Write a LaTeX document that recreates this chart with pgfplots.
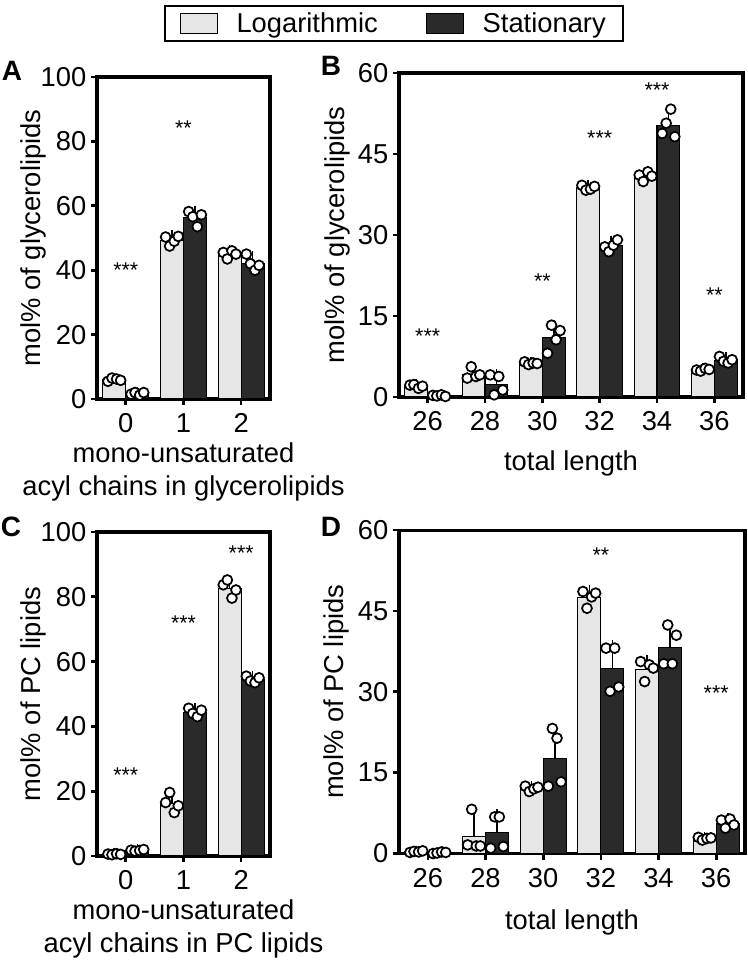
\documentclass[border=0pt]{standalone}
\usepackage{fontspec}
\setmainfont{Liberation Sans}
\usepackage{pgfplots}
\usepackage{pgfplotstable}
\pgfplotsset{compat=1.18}
\definecolor{logc}{HTML}{E6E6E6}
\definecolor{statc}{HTML}{2A2A2A}

% ---------- Panel A ----------
\pgfplotstableread{
cat log logsd stat statsd
0 6.0 0.45 1.7 0.4
1 49.3 1.4 56.4 2.0
2 45.0 1.1 42.1 2.2
}\barsA
\pgfplotstableread{
cat dx y
0 -0.31 5.5
0 -0.24 6.5
0 -0.16 6.2
0 -0.09 5.8
0 0.09 1.5
0 0.16 2.0
0 0.24 1.2
0 0.31 2.0
1 -0.31 50.3
1 -0.24 47.5
1 -0.16 49.0
1 -0.09 50.5
1 0.09 58.2
1 0.16 56.6
1 0.24 53.5
1 0.31 57.2
2 -0.31 45.5
2 -0.24 43.5
2 -0.16 46.0
2 -0.09 45.0
2 0.09 45.0
2 0.16 42.0
2 0.24 40.0
2 0.31 41.5
}\ptsA

% ---------- Panel B ----------
\pgfplotstableread{
cat log logsd stat statsd
0 2.0 0.3 0.25 0.13
1 4.25 0.9 2.4 1.8
2 6.25 0.2 11.1 2.2
3 38.75 0.4 28.0 0.9
4 40.9 0.75 50.25 2.3
5 5.05 0.2 6.8 0.5
}\barsB
\pgfplotstableread{
cat dx y
0 -0.31 2.2
0 -0.24 2.3
0 -0.16 1.6
0 -0.09 2.0
0 0.09 0.3
0 0.16 0.2
0 0.24 0.4
0 0.31 0.1
1 -0.31 3.5
1 -0.24 5.6
1 -0.16 3.8
1 -0.09 4.1
1 0.09 4.1
1 0.16 0.4
1 0.24 3.8
1 0.31 1.3
2 -0.31 6.5
2 -0.24 6.0
2 -0.16 6.3
2 -0.09 6.2
2 0.09 8.1
2 0.16 13.3
2 0.24 10.6
2 0.31 12.3
3 -0.31 39.2
3 -0.24 38.3
3 -0.16 38.5
3 -0.09 39.0
3 0.09 27.8
3 0.16 26.9
3 0.24 28.1
3 0.31 29.1
4 -0.31 41.1
4 -0.24 39.9
4 -0.16 41.7
4 -0.09 40.9
4 0.09 48.8
4 0.16 50.7
4 0.24 53.3
4 0.31 48.2
5 -0.31 5.0
5 -0.24 4.8
5 -0.16 5.3
5 -0.09 5.1
5 0.09 7.5
5 0.16 6.6
5 0.24 6.3
5 0.31 6.9
}\ptsB

% ---------- Panel C ----------
\pgfplotstableread{
cat log logsd stat statsd
0 0.55 0.13 1.75 0.2
1 16.25 2.6 44.4 1.1
2 82.65 2.4 54.5 0.9
}\barsC
\pgfplotstableread{
cat dx y
0 -0.31 0.6
0 -0.24 0.4
0 -0.16 0.7
0 -0.09 0.5
0 0.09 1.8
0 0.16 1.5
0 0.24 1.7
0 0.31 2.0
1 -0.31 16.5
1 -0.24 19.6
1 -0.16 13.4
1 -0.09 15.5
1 0.09 45.6
1 0.16 44.0
1 0.24 43.0
1 0.31 45.0
2 -0.31 83.7
2 -0.24 85.2
2 -0.16 79.6
2 -0.09 82.1
2 0.09 55.5
2 0.16 54.0
2 0.24 53.5
2 0.31 55.0
}\ptsC

% ---------- Panel D ----------
\pgfplotstableread{
cat log logsd stat statsd
0 0.35 0.13 0.15 0.13
1 3.15 3.4 3.98 3.2
2 12.1 0.4 17.6 5.4
3 47.5 1.4 34.3 4.4
4 34.2 1.6 38.3 3.7
5 2.8 0.2 5.65 0.8
}\barsD
\pgfplotstableread{
cat dx y
0 -0.31 0.2
0 -0.24 0.4
0 -0.16 0.3
0 -0.09 0.5
0 0.09 0.0
0 0.16 0.1
0 0.24 0.3
0 0.31 0.2
1 -0.24 8.2
1 -0.31 1.6
1 -0.16 1.4
1 -0.09 1.4
1 0.09 1.0
1 0.16 6.8
1 0.24 6.8
1 0.31 1.3
2 -0.31 12.5
2 -0.24 11.5
2 -0.16 12.0
2 -0.09 12.3
2 0.16 23.2
2 0.24 21.4
2 0.09 12.5
2 0.31 13.3
3 -0.31 48.6
3 -0.24 45.5
3 -0.16 47.6
3 -0.09 48.3
3 0.09 38.1
3 0.16 30.1
3 0.24 38.1
3 0.31 30.9
4 -0.31 35.6
4 -0.24 31.9
4 -0.16 35.0
4 -0.09 34.4
4 0.09 35.2
4 0.16 42.4
4 0.24 35.2
4 0.31 40.5
5 -0.31 3.0
5 -0.24 2.5
5 -0.16 2.8
5 -0.09 2.9
5 0.09 6.2
5 0.16 4.7
5 0.24 6.4
5 0.31 5.3
}\ptsD

\pgfplotsset{
  panel/.style={
    scale only axis,
    separate axis lines,
    axis line style={line width=2.3pt, black, line cap=rect},
    tick pos=left,
    tick align=outside,
    major tick length=4.5pt,
    major tick style={line width=2pt, black},
    ymin=0,
    /pgf/number format/assume math mode=true,
    tick label style={font=\fontsize{20.5}{24}\selectfont, black},
    xticklabel style={yshift=-3pt},
    label style={font=\fontsize{20.5}{25}\selectfont, black},
    xlabel style={align=center},
  },
  ylab/.style={every axis y label/.style={at={(axis description cs:#1,0.5)}, rotate=90, anchor=center,
      font=\fontsize{20.5}{25}\selectfont, black}},
  barlog/.style={ybar, bar width=0.4, bar shift=0pt, fill=logc, draw=black, line width=0.8pt, forget plot,
    error bars/.cd, y dir=plus, y explicit,
    error bar style={line width=1.2pt, black},
    error mark options={line width=1.2pt, mark size=4pt, black}},
  barstat/.style={ybar, bar width=0.4, bar shift=0pt, fill=statc, draw=black, line width=0.8pt, forget plot,
    error bars/.cd, y dir=plus, y explicit,
    error bar style={line width=1.2pt, black},
    error mark options={line width=1.2pt, mark size=4pt, black}},
  pts/.style={only marks, mark=*, mark size=3.7pt, forget plot,
    mark options={fill=white, draw=black, line width=1.3pt}},
}
\newcommand{\stars}[1]{\fontsize{16}{16}\selectfont #1}

\begin{document}
\begin{tikzpicture}
\useasboundingbox (0,0) rectangle (561pt,720.75pt);

% ---------------- A ----------------
\begin{axis}[panel,
  at={(72.75pt,421.5pt)}, anchor=south west,
  width=129.75pt, height=241.5pt,
  xmin=-0.5, xmax=2.5, ymax=100,
  xtick={0,1,2}, ytick={0,20,40,60,80,100},
  xlabel={mono-unsaturated\\acyl chains in glycerolipids},
  ylabel={mol\% of glycerolipids}, ylab=-0.37,
  legend image code/.code={\draw[#1, line width=0.9pt] (0pt,-7.5pt) rectangle (27.75pt,7.5pt);},
  legend style={at={(axis description cs:1.717,1.166)}, anchor=center,
    draw=black, line width=2pt, font=\fontsize{20.5}{24}\selectfont,
    legend columns=2, inner xsep=11pt, inner ysep=3pt,
    /tikz/every odd column/.append style={column sep=12pt},
    /tikz/every even column/.append style={column sep=34pt}},
  legend cell align=left,
]
\addlegendimage{fill=logc, draw=black}
\addlegendentry{Logarithmic}
\addlegendimage{fill=statc, draw=black}
\addlegendentry{Stationary}
\addplot[barlog] table[x expr=\thisrow{cat}-0.2, y=log, y error=logsd]{\barsA};
\addplot[barstat] table[x expr=\thisrow{cat}+0.2, y=stat, y error=statsd]{\barsA};
\addplot[pts] table[x expr=\thisrow{cat}+\thisrow{dx}, y=y]{\ptsA};
\node at (axis cs:0,40) {\stars{***}};
\node at (axis cs:1,84) {\stars{**}};
\end{axis}

% ---------------- B ----------------
\begin{axis}[panel,
  at={(299.25pt,423pt)}, anchor=south west,
  width=258pt, height=243pt,
  xmin=-0.5, xmax=5.5, ymax=60,
  xtick={0,...,5}, xticklabels={26,28,30,32,34,36},
  ytick={0,15,30,45,60},
  xlabel={total length}, xlabel style={yshift=-8pt},
  ylabel={mol\% of glycerolipids}, ylab=-0.18,
]
\addplot[barlog] table[x expr=\thisrow{cat}-0.2, y=log, y error=logsd]{\barsB};
\addplot[barstat] table[x expr=\thisrow{cat}+0.2, y=stat, y error=statsd]{\barsB};
\addplot[pts] table[x expr=\thisrow{cat}+\thisrow{dx}, y=y]{\ptsB};
\node at (axis cs:0,11.2) {\stars{***}};
\node at (axis cs:2,21.4) {\stars{**}};
\node at (axis cs:3,48) {\stars{***}};
\node at (axis cs:4,56.9) {\stars{***}};
\node at (axis cs:5,18.9) {\stars{**}};
\end{axis}

% ---------------- C ----------------
\begin{axis}[panel,
  at={(72.75pt,78.75pt)}, anchor=south west,
  width=129.75pt, height=243pt,
  xmin=-0.5, xmax=2.5, ymax=100,
  xtick={0,1,2}, ytick={0,20,40,60,80,100},
  xlabel={mono-unsaturated\\acyl chains in PC lipids},
  ylabel={mol\% of PC lipids}, ylab=-0.37,
]
\addplot[barlog] table[x expr=\thisrow{cat}-0.2, y=log, y error=logsd]{\barsC};
\addplot[barstat] table[x expr=\thisrow{cat}+0.2, y=stat, y error=statsd]{\barsC};
\addplot[pts] table[x expr=\thisrow{cat}+\thisrow{dx}, y=y]{\ptsC};
\node at (axis cs:0,25) {\stars{***}};
\node at (axis cs:1,72) {\stars{***}};
\node at (axis cs:2,93.5) {\stars{***}};
\end{axis}

% ---------------- D ----------------
\begin{axis}[panel,
  at={(299.25pt,80.6pt)}, anchor=south west,
  width=259.5pt, height=242.6pt,
  xmin=-0.5, xmax=5.5, ymax=60,
  xtick={0,...,5}, xticklabels={26,28,30,32,34,36},
  ytick={0,15,30,45,60},
  xlabel={total length}, xlabel style={yshift=-10pt},
  ylabel={mol\% of PC lipids}, ylab=-0.18,
]
\addplot[barlog] table[x expr=\thisrow{cat}-0.2, y=log, y error=logsd]{\barsD};
\addplot[barstat] table[x expr=\thisrow{cat}+0.2, y=stat, y error=statsd]{\barsD};
\addplot[pts] table[x expr=\thisrow{cat}+\thisrow{dx}, y=y]{\ptsD};
\node at (axis cs:3,55.4) {\stars{**}};
\node at (axis cs:5,29.7) {\stars{***}};
\end{axis}

% panel letters
\node[font=\fontsize{21}{21}\selectfont\bfseries] at (9pt,667.9pt) {A};
\node[font=\fontsize{21}{21}\selectfont\bfseries] at (248.25pt,671.25pt) {B};
\node[font=\fontsize{21}{21}\selectfont\bfseries] at (8.25pt,325.5pt) {C};
\node[font=\fontsize{21}{21}\selectfont\bfseries] at (248.25pt,325.5pt) {D};
\end{tikzpicture}
\end{document}
